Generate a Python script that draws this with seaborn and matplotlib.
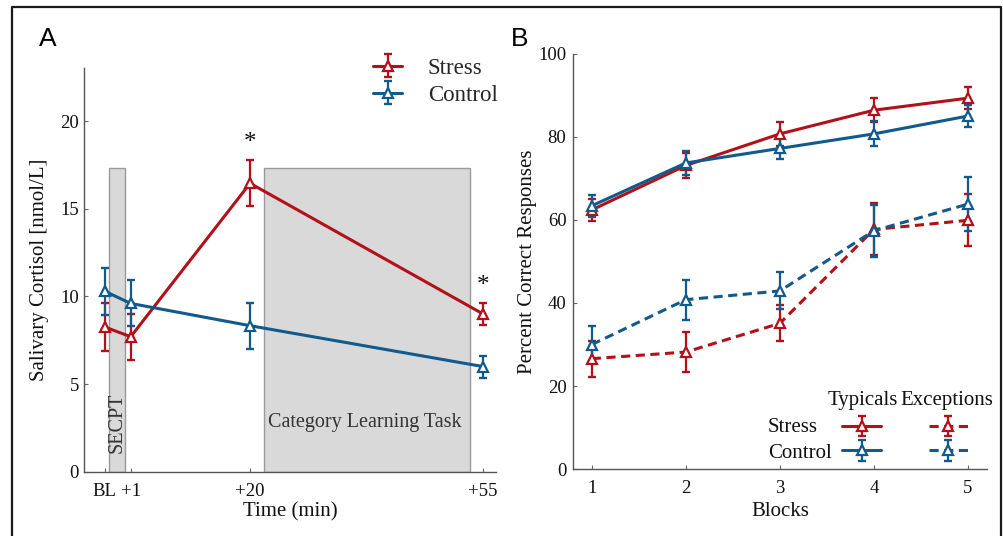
import numpy as np
import pandas as pd
import matplotlib
matplotlib.use("Agg")
import matplotlib.pyplot as plt
import seaborn as sns
from matplotlib.lines import Line2D
from matplotlib.patches import Rectangle
from matplotlib.legend_handler import HandlerTuple

# ---------------- data ----------------
# Panel A: salivary cortisol
time_labels = ["BL", "+1", "+20", "+55"]
time_pos = [-3, 1, 19.3, 55]
cort_stress = [8.26, 7.70, 16.45, 9.00]
cort_stress_sem = [1.38, 1.30, 1.30, 0.62]
cort_control = [10.30, 9.60, 8.33, 6.00]
cort_control_sem = [1.34, 1.31, 1.31, 0.63]
sig_index = [2, 3]
phase_names = ["SECPT", "Category Learning Task"]
phase_start = [-2.3, 21.4]
phase_end = [0.1, 53.0]
phase_top = 17.3

# Panel B: percent correct
blocks = [1, 2, 3, 4, 5]
typ_stress = [62.4, 73.1, 80.7, 86.4, 89.3]
typ_stress_sem = [2.75, 2.9, 2.8, 2.95, 2.65]
typ_control = [63.4, 73.7, 77.2, 80.7, 85.0]
typ_control_sem = [2.7, 2.8, 2.5, 3.0, 2.6]
exc_stress = [26.6, 28.2, 35.1, 57.7, 59.9]
exc_stress_sem = [4.35, 4.85, 4.3, 6.25, 6.3]
exc_control = [30.0, 40.8, 42.9, 57.4, 63.8]
exc_control_sem = [4.45, 4.8, 4.45, 6.25, 6.5]

RED = "#b3111a"
BLUE = "#115a8b"
DASH = (0, (3.0, 1.8))

sns.set_theme(style="white")
plt.rcParams["font.family"] = ["Liberation Serif", "DejaVu Serif"]

W, H = 1004, 536
fig = plt.figure(figsize=(W / 100, H / 100), dpi=100)


def fx(px):
    return px / W


def fy(py):
    return 1 - py / H


axA = fig.add_axes([fx(84), fy(471.8), (495.7 - 84) / W, (471.8 - 68.4) / H])
axB = fig.add_axes([fx(573), fy(469.2), (986.7 - 573) / W, (469.2 - 53.7) / H])


def style_axes(ax, ypad):
    for s in ["top", "right"]:
        ax.spines[s].set_visible(False)
    for s in ["left", "bottom"]:
        ax.spines[s].set_color("#555555")
        ax.spines[s].set_linewidth(1.0)
    ax.tick_params(axis="both", direction="in", length=3, width=0.8,
                   color="#666666", labelsize=13.5, labelcolor="#111111",
                   bottom=True, left=True)
    ax.tick_params(axis="x", pad=7.8)
    ax.tick_params(axis="y", pad=ypad)
    ax.grid(False)


def draw_series(ax, x, y, err, color, ls):
    eb = ax.errorbar(x, y, yerr=err, fmt="none", ecolor=color, elinewidth=1.6,
                     capsize=3.2, capthick=1.7, zorder=3)
    sns.lineplot(x=x, y=y, ax=ax, color=color, lw=2.2, linestyle=ls,
                 marker="^", markersize=7.5, markerfacecolor="white",
                 markeredgecolor=color, markeredgewidth=1.6, zorder=4,
                 legend=False)
    proxy = Line2D([], [], color=color, lw=2.2, linestyle=ls, marker="^",
                   markersize=7.5, markerfacecolor="white",
                   markeredgecolor=color, markeredgewidth=1.6)
    return (eb, proxy)


# ---------------- Panel A ----------------
ax = axA
for name, s, e in zip(phase_names, phase_start, phase_end):
    ax.add_patch(Rectangle((s, 0), e - s, phase_top, facecolor="#d9d9d9",
                           edgecolor="#9a9a9a", lw=1.0, zorder=1))
h_stress = draw_series(ax, time_pos, cort_stress, cort_stress_sem, RED, "-")
h_control = draw_series(ax, time_pos, cort_control, cort_control_sem, BLUE, "-")

ax.text(-1.05, 2.8, phase_names[0], rotation=90, ha="center", va="center",
        fontsize=14.5, color="#333333", zorder=2)
ax.text(22.0, 2.8, phase_names[1], ha="left", va="center",
        fontsize=14.5, color="#333333", zorder=2)
for i in sig_index:
    top = max(cort_stress[i] + cort_stress_sem[i],
              cort_control[i] + cort_control_sem[i])
    ax.text(time_pos[i], top + 0.65, "*", ha="center", va="baseline",
            fontsize=18, color="#111111")

ax.set_xlim(-6.16, 56.95)
ax.set_ylim(0, 23)
ax.set_xticks(time_pos)
ax.set_xticklabels(time_labels)
ax.set_yticks([0, 5, 10, 15, 20])
style_axes(ax, 3.6)
ax.set_xlabel("Time (min)", fontsize=15, color="#111111")
ax.set_ylabel("Salivary Cortisol [nmol/L]", fontsize=15, color="#111111")
ax.xaxis.set_label_coords(0.5, -0.0744)
ax.yaxis.set_label_coords(-0.0838, 0.5)

ax.legend(handles=[h_stress, h_control], labels=["Stress", "Control"],
          handler_map={tuple: HandlerTuple(ndivide=1)},
          loc="center left", bbox_to_anchor=(fx(373), fy(81.8)),
          bbox_transform=fig.transFigure, frameon=False, fontsize=16.5,
          handlelength=1.27, handletextpad=1.13, borderpad=0,
          borderaxespad=0, labelspacing=0.25)

# ---------------- Panel B ----------------
ax = axB
h_ts = draw_series(ax, blocks, typ_stress, typ_stress_sem, RED, "-")
h_tc = draw_series(ax, blocks, typ_control, typ_control_sem, BLUE, "-")
h_es = draw_series(ax, blocks, exc_stress, exc_stress_sem, RED, DASH)
h_ec = draw_series(ax, blocks, exc_control, exc_control_sem, BLUE, DASH)

ax.set_xlim(0.8, 5.2)
ax.set_ylim(0, 100)
ax.set_xticks(blocks)
ax.set_yticks([0, 20, 40, 60, 80, 100])
style_axes(ax, 4.7)
ax.set_xlabel("Blocks", fontsize=15, color="#111111")
ax.set_ylabel("Percent Correct Responses", fontsize=15, color="#111111")
ax.xaxis.set_label_coords(0.5, -0.079)
ax.yaxis.set_label_coords(-0.0882, 0.5)

ax.legend(handles=[h_ts, h_tc, h_es, h_ec], labels=["", "", "", ""], ncol=2,
          handler_map={tuple: HandlerTuple(ndivide=1)},
          loc="center", bbox_to_anchor=(fx(905), fy(440.5)),
          bbox_transform=fig.transFigure, frameon=False, fontsize=15,
          handlelength=1.87, handletextpad=0, columnspacing=2.3,
          borderpad=0, borderaxespad=0, labelspacing=0.22)

fig.text(fx(863), fy(400.5), "Typicals", ha="center", va="center",
         fontsize=15, color="#111111")
fig.text(fx(947), fy(400.5), "Exceptions", ha="center", va="center",
         fontsize=15, color="#111111")
fig.text(fx(768), fy(428), "Stress", ha="left", va="center", fontsize=15,
         color="#111111")
fig.text(fx(768), fy(453), "Control", ha="left", va="center", fontsize=15,
         color="#111111")

# panel letters
fig.text(fx(48), fy(39), "A", ha="center", va="center", fontsize=19,
         family="Liberation Sans", color="#000000")
fig.text(fx(520), fy(39), "B", ha="center", va="center", fontsize=19,
         family="Liberation Sans", color="#000000")

# outer frame (open at the bottom)
fig.add_artist(Line2D([fx(11.7), fx(11.7), fx(1001.3), fx(1001.3)],
                      [0, fy(6.8), fy(6.8), 0], transform=fig.transFigure,
                      color="#1a1a1a", lw=1.6))

fig.savefig("out.png", dpi=100)
